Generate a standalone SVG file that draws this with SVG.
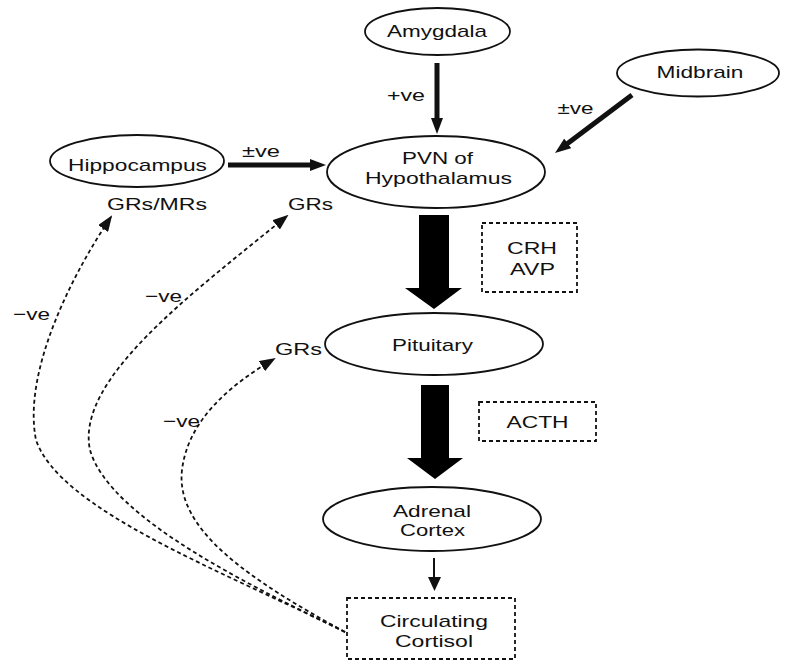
<svg xmlns="http://www.w3.org/2000/svg" width="786" height="662" viewBox="0 0 786 662">
<style>
text{font-family:"Liberation Sans",Arial,sans-serif;font-size:17px;fill:#111;text-anchor:middle}
.node{fill:none;stroke:#111;stroke-width:1.8}
.box{fill:none;stroke:#111;stroke-width:1.8;stroke-dasharray:4 3}
.thick{stroke:#111;stroke-width:5;fill:none}
.dash{fill:none;stroke:#111;stroke-width:1.8;stroke-dasharray:4 3}
.big{fill:#000}
</style>
<defs>
<marker id="solidHead" viewBox="0 0 16 12" refX="2" refY="6" markerWidth="16" markerHeight="12" markerUnits="userSpaceOnUse" orient="auto">
<path d="M0,0 L16,6 L0,12 z" fill="#111"/>
</marker>
<marker id="dashHead" viewBox="0 0 16 12" refX="14" refY="6" markerWidth="16" markerHeight="12" markerUnits="userSpaceOnUse" orient="auto">
<path d="M0,0 L16,6 L0,12 z" fill="#111"/>
</marker>
</defs>
<rect width="786" height="662" fill="#fff"/>

<g id="amygdala">
<ellipse class="node" cx="437.5" cy="31.5" rx="72.5" ry="23.5"/>
<text x="437" y="37" textLength="100" lengthAdjust="spacingAndGlyphs">Amygdala</text>
</g>
<g id="midbrain">
<ellipse class="node" cx="698" cy="73" rx="81" ry="23.5"/>
<text x="700" y="78" textLength="87" lengthAdjust="spacingAndGlyphs">Midbrain</text>
</g>
<g id="hippocampus">
<ellipse class="node" cx="137" cy="161" rx="87" ry="26"/>
<text x="137.5" y="171" textLength="139" lengthAdjust="spacingAndGlyphs">Hippocampus</text>
<text x="157" y="210" textLength="100" lengthAdjust="spacingAndGlyphs">GRs/MRs</text>
</g>
<g id="pvn">
<ellipse class="node" cx="436" cy="172" rx="109" ry="36"/>
<text x="437.5" y="164" textLength="71" lengthAdjust="spacingAndGlyphs">PVN of</text>
<text x="438.5" y="184" textLength="147" lengthAdjust="spacingAndGlyphs">Hypothalamus</text>
<text x="310.5" y="210" textLength="45" lengthAdjust="spacingAndGlyphs">GRs</text>
</g>
<g id="crh-avp">
<rect class="box" x="482" y="223" width="95" height="69"/>
<text x="532" y="254" textLength="50" lengthAdjust="spacingAndGlyphs">CRH</text>
<text x="532.5" y="275" textLength="45" lengthAdjust="spacingAndGlyphs">AVP</text>
</g>
<g id="pituitary">
<ellipse class="node" cx="434" cy="344" rx="109" ry="31"/>
<text x="432.5" y="351" textLength="81" lengthAdjust="spacingAndGlyphs">Pituitary</text>
<text x="298.5" y="355" textLength="47" lengthAdjust="spacingAndGlyphs">GRs</text>
</g>
<g id="acth">
<rect class="box" x="479" y="402" width="117" height="39"/>
<text x="537.5" y="428" textLength="62" lengthAdjust="spacingAndGlyphs">ACTH</text>
</g>
<g id="adrenal">
<ellipse class="node" cx="432" cy="519" rx="109" ry="32"/>
<text x="432" y="517" textLength="78" lengthAdjust="spacingAndGlyphs">Adrenal</text>
<text x="432.5" y="536" textLength="65" lengthAdjust="spacingAndGlyphs">Cortex</text>
</g>
<g id="cortisol">
<rect class="box" x="347" y="598" width="168" height="61"/>
<text x="434" y="627" textLength="108" lengthAdjust="spacingAndGlyphs">Circulating</text>
<text x="434" y="647" textLength="78" lengthAdjust="spacingAndGlyphs">Cortisol</text>
</g>

<g id="connectors">
<line class="thick" x1="437" y1="63" x2="437" y2="120" marker-end="url(#solidHead)"/>
<text x="406" y="101" textLength="38" lengthAdjust="spacingAndGlyphs">+ve</text>
<line class="thick" x1="632" y1="95" x2="566.2" y2="144.6" marker-end="url(#solidHead)"/>
<text x="575.5" y="114" textLength="36" lengthAdjust="spacingAndGlyphs">±ve</text>
<line class="thick" x1="228" y1="165" x2="312" y2="165" marker-end="url(#solidHead)"/>
<text x="261" y="157" textLength="38" lengthAdjust="spacingAndGlyphs">±ve</text>
<polygon class="big" points="419,215 449,215 449,288 462,288 434,309 405,288 419,288"/>
<polygon class="big" points="421,385 449,385 449,458 463,458 435,479 407,458 421,458"/>
<line x1="434" y1="558" x2="434" y2="578" stroke="#111" stroke-width="2"/>
<polygon points="428,577 441,577 434.5,591" fill="#111"/>
<path class="dash" d="M345,632 C220,570 60,510 36,440 C22,370 75,270 111,217" marker-end="url(#dashHead)"/>
<path class="dash" d="M345,632 C260,590 110,520 90,450 C75,380 190,295 287,216" marker-end="url(#dashHead)"/>
<path class="dash" d="M345,632 C250,580 175,530 182,470 C188,420 230,385 274,359" marker-end="url(#dashHead)"/>
<text x="31.5" y="320" textLength="37" lengthAdjust="spacingAndGlyphs">−ve</text>
<text x="163.5" y="302" textLength="37" lengthAdjust="spacingAndGlyphs">−ve</text>
<text x="181.5" y="427" textLength="37" lengthAdjust="spacingAndGlyphs">−ve</text>
</g>
</svg>
